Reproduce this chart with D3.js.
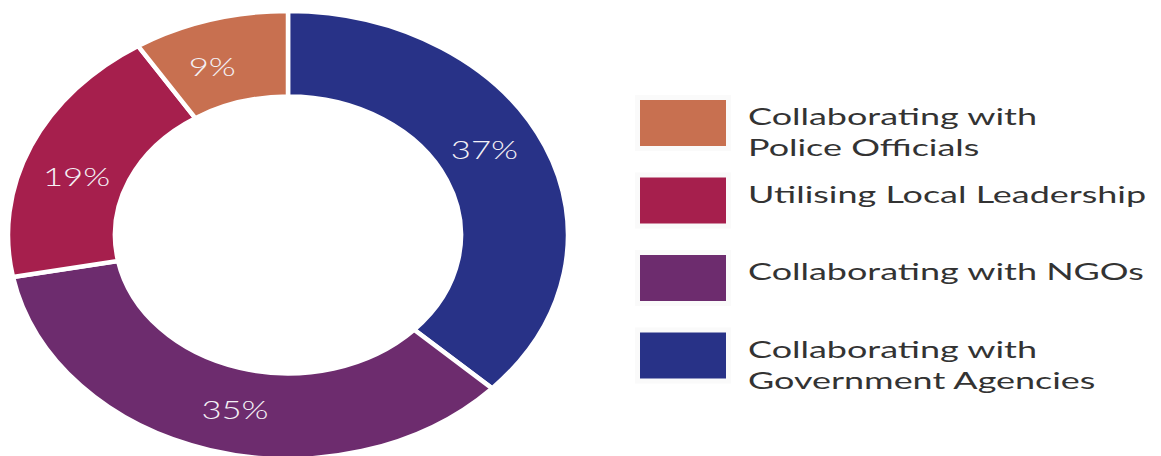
<!DOCTYPE html>
<html>
<head>
<meta charset="utf-8">
<script src="https://cdn.jsdelivr.net/npm/d3@7"></script>
<style>
  html, body { margin: 0; padding: 0; background: #fff; }
  svg { display: block; }
</style>
</head>
<body>
<svg id="chart" width="1161" height="456"></svg>
<script>
// Ring order (clockwise from 12 o'clock)
const categories = [
  "Collaborating with Government Agencies",
  "Collaborating with NGOs",
  "Utilising Local Leadership",
  "Collaborating with Police Officials"
];
const shares = [37, 35, 19, 9];
const colors = ["#283287", "#6d2c6e", "#a61f4d", "#c87050"];

// Legend, top to bottom (indices into categories), with line breaks
const legendOrder = [3, 2, 1, 0];
const legendLines = [
  ["Collaborating with", "Government Agencies"],
  ["Collaborating with NGOs"],
  ["Utilising Local Leadership"],
  ["Collaborating with", "Police Officials"]
];

const W = 1161, H = 456;
const squash = 0.8;                 // the artwork is drawn vertically compressed
const svg = d3.select("#chart");
const g = svg.append("g").attr("transform", `scale(1,${squash})`);

const cx = 288, cy = 235 / squash;
const outerR = 280, innerR = 173;
const labelR = 224;
// where inside each slice its percentage label sits (fraction of the slice's sweep)
const labelFrac = [0.46, 0.48, 0.44, 0.39];

const pie = d3.pie().sort(null).value(d => d);
const arcs = pie(shares);
const arc = d3.arc().innerRadius(innerR).outerRadius(outerR);

const ring = g.append("g").attr("transform", `translate(${cx},${cy})`);
ring.selectAll("path.slice")
  .data(arcs)
  .join("path")
  .attr("class", "slice")
  .attr("d", arc)
  .attr("fill", (d, i) => colors[i])
  .attr("stroke", "#fff")
  .attr("stroke-width", 4.5)
  .attr("vector-effect", "non-scaling-stroke")
  .attr("stroke-linejoin", "miter");

const labelArc = d3.arc().innerRadius(labelR).outerRadius(labelR);
ring.selectAll("text.pct")
  .data(arcs)
  .join("text")
  .attr("class", "pct")
  .each(function(d, i) {
    const a = d.startAngle + labelFrac[i] * (d.endAngle - d.startAngle);
    const [x, y] = labelArc.centroid({startAngle: a, endAngle: a});
    d3.select(this).attr("transform", `translate(${x},${y}) scale(1.05,1)`);
  })
  .attr("text-anchor", "middle")
  .attr("dominant-baseline", "central")
  .attr("font-family", "Lato, 'Open Sans', sans-serif")
  .attr("font-weight", 300)
  .attr("font-size", 33)
  .attr("fill", "#f4f1f6")
  .text(d => d.data + "%");

// Legend
const lgX = 640, swW = 86, swH = 46 / squash;
const lgTop = 100 / squash, lgStep = 77.5 / squash;
const textX = 748, lineGap = 31 / squash;
const widestLineWidth = 398;        // drawn width of the longest single line

const legend = g.append("g");
const items = legend.selectAll("g.item")
  .data(legendOrder)
  .join("g")
  .attr("class", "item")
  .attr("transform", (d, k) => `translate(0,${lgTop + k * lgStep})`);

items.append("rect")
  .attr("x", lgX - 5).attr("y", -5 / squash)
  .attr("width", swW + 10).attr("height", swH + 10 / squash)
  .attr("fill", "#fafafa");
items.append("rect")
  .attr("x", lgX).attr("y", 0)
  .attr("width", swW).attr("height", swH)
  .attr("fill", d => colors[d]);

const labels = items.append("text")
  .attr("font-family", "Lato, 'Open Sans', sans-serif")
  .attr("font-weight", 400)
  .attr("font-size", 29)
  .attr("fill", "#333");
labels.each(function(d) {
  const t = d3.select(this);
  legendLines[d].forEach((ln, j) => {
    t.append("tspan")
      .attr("x", 0)
      .attr("y", swH / 2 + 2.5 / squash + j * lineGap)
      .text(ln);
  });
});

// widen the legend type so the longest line spans the intended width
let maxW = 0;
labels.selectAll("tspan").each(function() {
  maxW = Math.max(maxW, this.getComputedTextLength());
});
const sx = maxW > 0 ? widestLineWidth / maxW : 1;
labels.attr("transform", `translate(${textX},0) scale(${sx},1)`);
</script>
</body>
</html>
